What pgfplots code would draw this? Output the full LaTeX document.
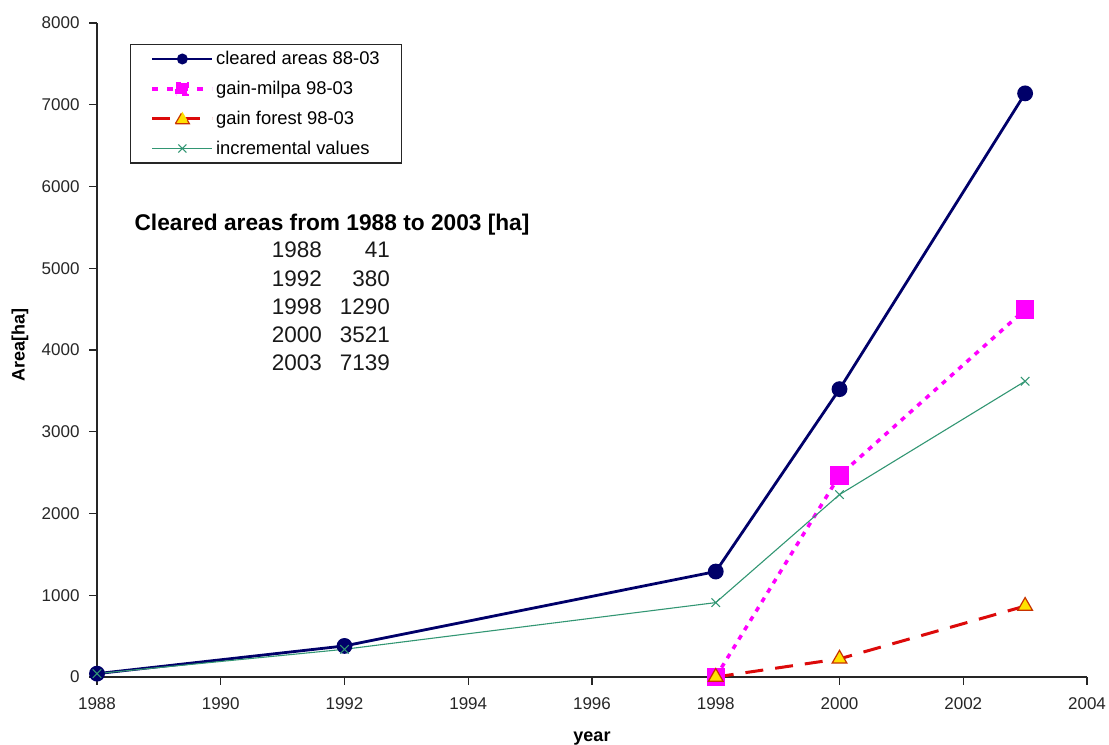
\documentclass[border=0pt]{standalone}
\usepackage{pgfplots}
\pgfplotsset{compat=1.18}
\usepackage{fontspec}
\setmainfont{Liberation Sans}
\definecolor{navyc}{RGB}{0,0,105}
\definecolor{magc}{RGB}{255,0,255}
\definecolor{redc}{RGB}{220,10,10}
\definecolor{triedge}{RGB}{200,50,0}
\definecolor{yelc}{RGB}{255,225,0}
\definecolor{greenc}{RGB}{50,150,115}
\begin{document}
\begin{tikzpicture}
\begin{axis}[
  scale only axis,
  width=990pt, height=654pt,
  xmin=1988, xmax=2004, ymin=0, ymax=8000,
  axis x line=bottom, axis y line=left,
  axis line style={-, line width=1.3pt, black!85},
  xtick={1988,1990,...,2004},
  ytick={0,1000,...,8000},
  xmajorticks=true, ymajorticks=true,
  xtick pos=bottom, ytick pos=left,
  xtick align=outside, ytick align=outside,
  major tick length=8pt,
  xtick style={draw=black!85, line width=1.3pt},
  ytick style={draw=black!85, line width=1.3pt},
  /pgf/number format/assume math mode=true,
  x tick label style={/pgf/number format/1000 sep={}, font=\fontsize{17}{20}\selectfont, text=black!85, yshift=-9pt},
  y tick label style={/pgf/number format/1000 sep={}, font=\fontsize{17}{20}\selectfont, text=black!85, xshift=-6pt},
  every axis x label/.style={at={(rel axis cs:0.5,0)}, anchor=base, yshift=-65pt, font=\fontsize{18}{20}\selectfont\bfseries},
  every axis y label/.style={at={(rel axis cs:0,0.5)}, rotate=90, anchor=center, yshift=77pt, xshift=5pt, font=\fontsize{18}{20}\selectfont\bfseries},
  xlabel={\raisebox{0pt}[\height][0pt]{year}}, ylabel={Area[ha]},
  legend style={at={(0.0333,0.968)}, anchor=north west, draw=black!85, line width=1.3pt,
    font=\fontsize{18.4}{22}\selectfont, row sep=11pt, inner xsep=20pt, inner ysep=5pt},
  legend cell align=left,
  clip=false,
]
\pgfplotsinvokeforeach{1988,1990,1992,1994,1996,1998,2000,2002,2004}{
  \draw[black!85, line width=1.3pt] (axis cs:#1,0) -- ++(0pt,-8pt);
}
\addplot[navyc, line width=2.8pt, mark=*, mark size=6.5pt, mark options={solid, fill=navyc},
  legend image code/.code={\draw[navyc, line width=2.8pt] (0pt,0pt) -- (60pt,0pt); \fill[navyc] (30pt,0pt) circle (4pt);}]
  coordinates {(1988,41) (1992,380) (1998,1290) (2000,3521) (2003,7139)};
\addlegendentry{cleared areas 88-03}
\addplot[magc, line width=3.5pt, dash pattern=on 5pt off 6pt, mark=square*, mark size=7.5pt, mark options={solid, fill=magc},
  legend image code/.code={\draw[magc, line width=3.5pt, dash pattern=on 6pt off 9pt] (0pt,0pt) -- (60pt,0pt); \fill[magc] (24pt,-5.5pt) rectangle (35pt,5.5pt);}]
  coordinates {(1998,0) (2000,2465) (2003,4495)};
\addlegendentry{gain-milpa 98-03}
\addplot[redc, line width=3pt, dash pattern=on 18pt off 12pt, mark=triangle*, mark size=8.5pt, mark options={solid, fill=yelc, draw=triedge, line width=1.2pt},
  legend image code/.code={\draw[redc, line width=3pt] (0pt,0pt) -- (60pt,0pt); \draw[fill=yelc, draw=triedge, line width=1.2pt] (23pt,-5pt) -- (37pt,-5pt) -- (30pt,7pt) -- cycle;}]
  coordinates {(1998,0) (2000,222) (2003,868)};
\addlegendentry{gain forest 98-03}
\addplot[greenc, line width=1.1pt, mark=x, mark size=6pt, mark options={solid},
  legend image code/.code={\draw[greenc, line width=1.1pt] (0pt,0pt) -- (60pt,0pt); \draw[greenc, line width=1.1pt] (26pt,-4pt) -- (34pt,4pt) (26pt,4pt) -- (34pt,-4pt);}]
  coordinates {(1988,41) (1992,339) (1998,910) (2000,2231) (2003,3618)};
\addlegendentry{incremental values}
\node[anchor=base, inner sep=0pt, font=\fontsize{22.7}{26}\selectfont\bfseries] at (rel axis cs:0.2374,0.682) {Cleared areas from 1988 to 2003 [ha]};
\begin{scope}[every node/.style={anchor=base east, inner sep=0pt, font=\fontsize{22.5}{26}\selectfont, text=black!90}]
\node at (rel axis cs:0.2273,0.6407) {1988}; \node at (rel axis cs:0.2960,0.6407) {41};
\node at (rel axis cs:0.2273,0.5974) {1992}; \node at (rel axis cs:0.2960,0.5974) {380};
\node at (rel axis cs:0.2273,0.5541) {1998}; \node at (rel axis cs:0.2960,0.5541) {1290};
\node at (rel axis cs:0.2273,0.5107) {2000}; \node at (rel axis cs:0.2960,0.5107) {3521};
\node at (rel axis cs:0.2273,0.4679) {2003}; \node at (rel axis cs:0.2960,0.4679) {7139};
\end{scope}
\coordinate (sw) at (rel axis cs:0,0);
\coordinate (ne) at (rel axis cs:1,1);
\end{axis}
\pgfresetboundingbox
\path[use as bounding box] ([xshift=-97pt,yshift=-68pt]sw) rectangle ([xshift=22pt,yshift=23pt]ne);
\end{tikzpicture}
\end{document}
